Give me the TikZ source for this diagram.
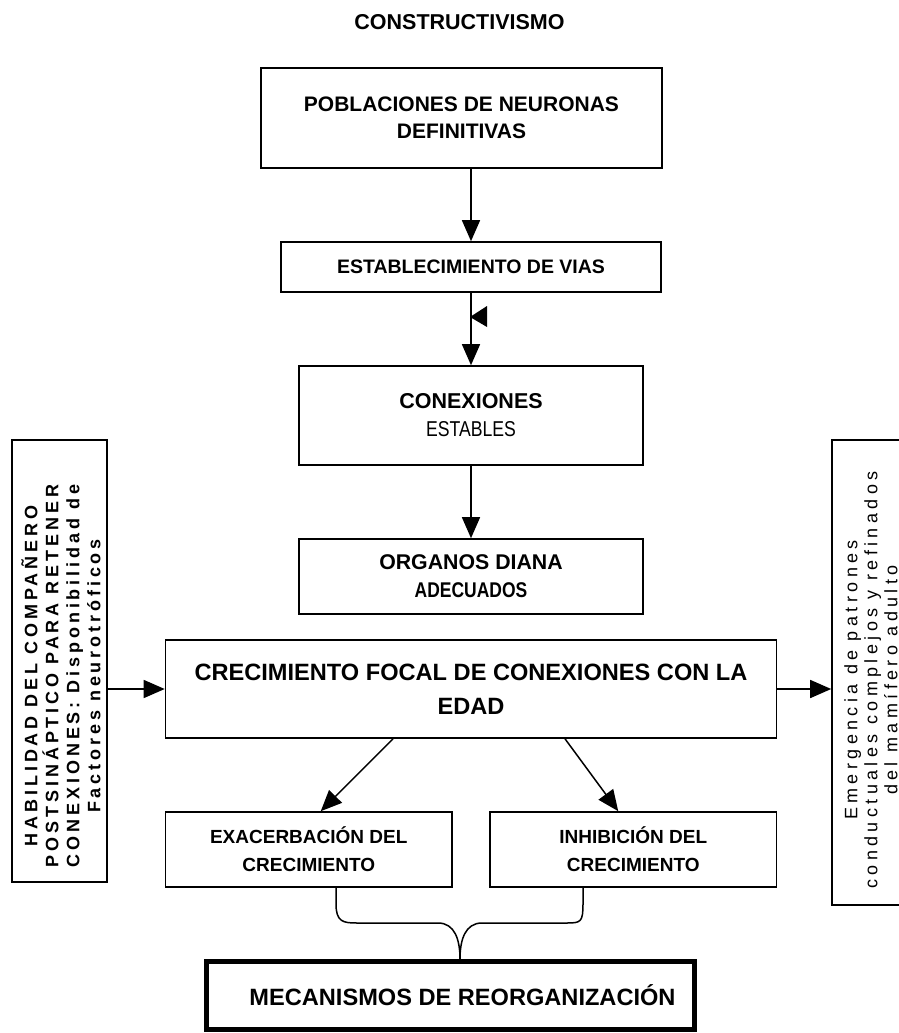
\documentclass[tikz,border=0pt]{standalone}
\usepackage{fontspec}
\setmainfont{Liberation Sans}
\newfontfamily\narrowfont[FakeStretch=0.82]{Liberation Sans}
\newfontfamily\spacedbold[LetterSpace=21.6]{Liberation Sans}
\newfontfamily\spacedreg[LetterSpace=24.5]{Liberation Sans}
\usetikzlibrary{arrows.meta,calc}
\tikzset{
  box/.style={draw, line width=1.6pt, inner sep=0pt, align=center, font=\bfseries},
  arr/.style={line width=1.5pt, -{Triangle[length=21pt,width=18pt]}},
  plain/.style={line width=1.5pt},
  sidetext/.style={rotate=90, inner sep=0pt, align=center},
}
\begin{document}
\begin{tikzpicture}[x=1pt,y=-1pt]
\useasboundingbox (0,0) rectangle (899,1033);
% title
\node[font=\bfseries\fontsize{21.5}{26}\selectfont] (title) at (459.5,22) {CONSTRUCTIVISMO};
% main column
\node[box, minimum width=401pt, minimum height=100pt, font=\bfseries\fontsize{21}{27}\selectfont] (pob) at (461.5,118) {POBLACIONES DE NEURONAS\\DEFINITIVAS};
\node[box, minimum width=380pt, minimum height=50pt, font=\bfseries\fontsize{19.5}{24}\selectfont] (est) at (471,267) {ESTABLECIMIENTO DE VIAS};
\node[box, minimum width=344pt, minimum height=99pt, font=\bfseries\fontsize{21.5}{28}\selectfont] (con) at (471,415.5) {CONEXIONES\\{\narrowfont\mdseries ESTABLES}};
\node[box, minimum width=344pt, minimum height=75pt, font=\bfseries\fontsize{21.3}{28}\selectfont] (org) at (471,576.5) {ORGANOS DIANA\\{\narrowfont ADECUADOS}};
\node[box, minimum width=611pt, minimum height=98pt, font=\bfseries\fontsize{23.6}{34}\selectfont] (cre) at (471,689) {CRECIMIENTO FOCAL DE CONEXIONES CON LA\\EDAD};
\node[box, minimum width=286.5pt, minimum height=75pt, font=\bfseries\fontsize{19}{28}\selectfont] (exa) at (308.75,849.5) {EXACERBACIÓN DEL\\CRECIMIENTO};
\node[box, minimum width=286.5pt, minimum height=75pt, font=\bfseries\fontsize{19}{28}\selectfont] (inh) at (633.25,849.5) {INHIBICIÓN DEL\\CRECIMIENTO};
\node[box, line width=4.5pt, minimum width=488pt, minimum height=68pt, font=\bfseries\fontsize{23.6}{30}\selectfont] (mec) at (450.5,995.5) {\hspace*{24pt}MECANISMOS DE REORGANIZACIÓN};
% side boxes
\node[box, rotate=90, minimum width=442pt, minimum height=95pt] (hab) at (59.5,661) {};
\node[sidetext, font=\spacedbold\bfseries\fontsize{18}{21}\selectfont] (habt) at (61,676) {HABILIDAD DEL COMPAÑERO\\POSTSINÁPTICO PARA RETENER\\CONEXIONES: Disponibilidad de\\Factores neurotróficos};
\node[box, rotate=90, minimum width=465pt, minimum height=78pt] (emr) at (871,672.5) {};
\node[sidetext, font=\spacedreg\mdseries\fontsize{18}{20}\selectfont] (emrt) at (871,680) {Emergencia de patrones\\conductuales complejos y refinados\\del mamífero adulto};
% connectors
\draw[arr] (pob.south -| est) -- (est.north);
\draw[arr] (est.south) -- (con.north);
\fill (470,317) -- (487,306) -- (487,327) -- cycle;
\draw[arr] (con.south) -- (org.north);
\draw[arr] (hab.south |- cre.west) -- (cre.west);
\draw[arr] (cre.east) -- (cre.east -| emr.north);
\draw[arr] ($(cre.south)+(-78,0)$) -- ($(exa.north)+(12,0)$);
\draw[arr] ($(cre.south)+(94,0)$) -- ($(inh.north)+(-15,0)$);
% brace
\coordinate (bl) at ($(exa.south)+(27.25,0)$);
\coordinate (br) at ($(inh.south)+(-50.25,0)$);
\coordinate (bt) at (mec.north -| 460,0);
\draw[plain] (bl) -- ++(0,16) .. controls ++(0,18) and ++(-14,0) .. (357,923) -- (438,923) .. controls (455,923) and (460,940) .. (bt);
\draw[plain] (br) -- ++(0,16) .. controls ++(0,18) and ++(14,0) .. (567,923) -- (482,923) .. controls (465,923) and (460,940) .. (bt);
\end{tikzpicture}
\end{document}
